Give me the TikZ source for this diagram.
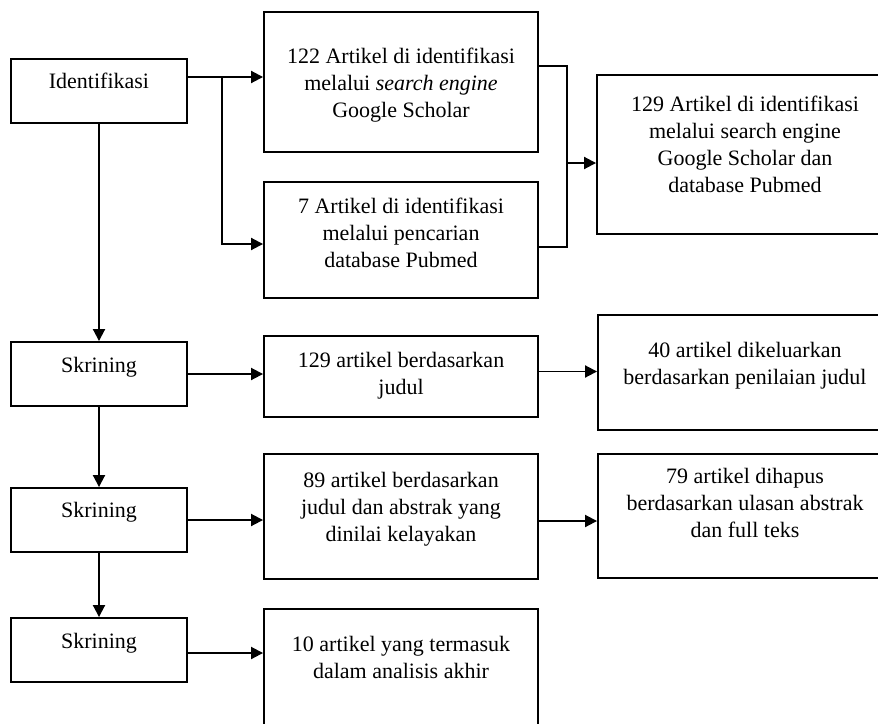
\documentclass[tikz,border=0pt]{standalone}
\usepackage{fontspec}
\setmainfont{Liberation Serif}
\usetikzlibrary{arrows.meta}
\begin{document}
\begin{tikzpicture}[x=1pt,y=-1pt,
  box/.style={draw, line width=1.9pt, inner sep=0pt},
  txt/.style={anchor=north, inner sep=0pt, align=center, font=\fontsize{22}{27}\selectfont},
  conn/.style={line width=1.9pt},
  arr/.style={conn, -{Triangle[length=12pt,width=12pt]}}]
\useasboundingbox (0,0) rectangle (878,723);
\clip (0,0) rectangle (878,723);
% boxes
\node[box, minimum width=176pt, minimum height=64pt] (ident) at (99,91) {};
\node[box, minimum width=274pt, minimum height=140pt] (a) at (401,82) {};
\node[box, minimum width=274pt, minimum height=116pt] (b) at (401,240) {};
\node[box, minimum width=296pt, minimum height=159pt] (c) at (745,154.5) {};
\node[box, minimum width=176pt, minimum height=64pt] (s1) at (99,374) {};
\node[box, minimum width=274pt, minimum height=81pt] (d) at (401,376.5) {};
\node[box, minimum width=294pt, minimum height=115pt] (e) at (745,372.5) {};
\node[box, minimum width=176pt, minimum height=64pt] (s2) at (99,520) {};
\node[box, minimum width=274pt, minimum height=125pt] (f) at (401,516.5) {};
\node[box, minimum width=294pt, minimum height=124pt] (g) at (745,516) {};
\node[box, minimum width=176pt, minimum height=64pt] (s3) at (99,650) {};
\node[box, minimum width=274pt, minimum height=151pt] (h) at (401,684.5) {};
% texts
\node[txt] (tident) at (99,73) {Identifikasi};
\node[txt] (ta) at (401,48) {122 Artikel di identifikasi\\melalui \textit{search engine}\\Google Scholar};
\node[txt] (tb) at (401,198) {7 Artikel di identifikasi\\melalui pencarian\\database Pubmed};
\node[txt] (tc) at (745,96) {129 Artikel di identifikasi\\melalui search engine\\Google Scholar dan\\database Pubmed};
\node[txt] (ts1) at (99,357) {Skrining};
\node[txt] (td) at (401,352) {129 artikel berdasarkan\\judul};
\node[txt] (te) at (745,342) {40 artikel dikeluarkan\\berdasarkan penilaian judul};
\node[txt] (ts2) at (99,502) {Skrining};
\node[txt] (tf) at (401,472) {89 artikel berdasarkan\\judul dan abstrak yang\\dinilai kelayakan};
\node[txt] (tg) at (745,468) {79 artikel dihapus\\berdasarkan ulasan abstrak\\dan full teks};
\node[txt] (ts3) at (99,633) {Skrining};
\node[txt] (th) at (401,636) {10 artikel yang termasuk\\dalam analisis akhir};
% connectors
\coordinate (j1) at (222,77);
\coordinate (m) at (567,163);
\draw[arr] ([yshift=14pt]ident.east) -- ([yshift=14pt]ident.east -| a.west);
\draw[arr] (j1) |- ([yshift=-4pt]b.west);
\draw[arr] (ident.south) -- (s1.north);
\draw[arr] (s1.south) -- (s2.north);
\draw[arr] (s2.south) -- (s3.north);
\draw[conn] ([yshift=16pt]a.east) -| (m);
\draw[conn] ([yshift=-7pt]b.east) -| (m);
\draw[arr] (m) -- (m -| c.west);
\draw[arr] (s1.east) -- (s1.east -| d.west);
\draw[arr] ([yshift=5pt]d.east) -- ([yshift=5pt]d.east -| e.west);
\draw[arr] (s2.east) -- (s2.east -| f.west);
\draw[arr] ([yshift=-4.5pt]f.east) -- ([yshift=-4.5pt]f.east -| g.west);
\draw[arr] ([yshift=-3pt]s3.east) -- ([yshift=-3pt]s3.east -| h.west);
\end{tikzpicture}
\end{document}
